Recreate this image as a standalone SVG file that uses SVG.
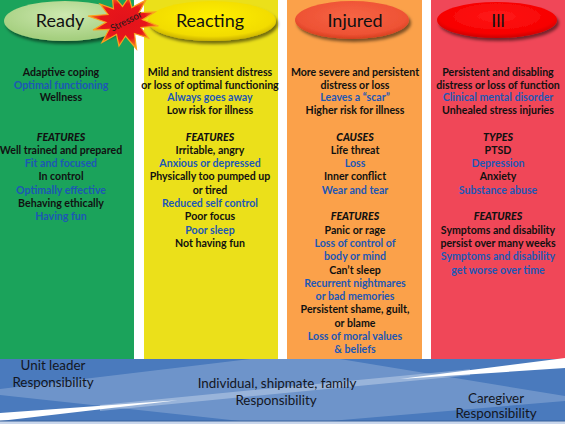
<svg xmlns="http://www.w3.org/2000/svg" width="565" height="424" viewBox="0 0 565 424">
<style>
.t{font-family:Lato,"Liberation Sans",sans-serif;font-size:10.6px;font-weight:700;text-anchor:middle;fill:#111}
.b{fill:#1d57b5}
.i{font-style:italic;font-weight:900}
.hd{font-family:Lato,"Liberation Sans",sans-serif;font-size:18px;font-weight:400;text-anchor:middle;fill:#111}
.r{font-family:Lato,"Liberation Sans",sans-serif;font-size:13.4px;font-weight:400;text-anchor:middle;fill:#13161e}
</style>
<defs>
<filter id="sh" x="-20%" y="-30%" width="140%" height="170%">
<feDropShadow dx="2" dy="3" stdDeviation="1.8" flood-color="#000" flood-opacity="0.5"/>
</filter>
<radialGradient id="gG" cx="0.5" cy="0.35" r="0.6"><stop offset="0" stop-color="#cde8b0"/><stop offset="1" stop-color="#a5cf7f"/></radialGradient>
<radialGradient id="gY" cx="0.5" cy="0.4" r="0.6"><stop offset="0" stop-color="#fff000"/><stop offset="0.8" stop-color="#f2dc00"/><stop offset="1" stop-color="#c9b000"/></radialGradient>
<radialGradient id="gO" cx="0.5" cy="0.4" r="0.6"><stop offset="0" stop-color="#f66444"/><stop offset="0.8" stop-color="#ee5234"/><stop offset="1" stop-color="#d63e1e"/></radialGradient>
<radialGradient id="gR" cx="0.5" cy="0.4" r="0.6"><stop offset="0" stop-color="#ff1a1a"/><stop offset="0.8" stop-color="#f70000"/><stop offset="1" stop-color="#cc0000"/></radialGradient>
<radialGradient id="gS" cx="0.5" cy="0.5" r="0.5"><stop offset="0" stop-color="#e2121b"/><stop offset="0.65" stop-color="#e8161a"/><stop offset="1" stop-color="#f7931e"/></radialGradient>
</defs>

<g id="col-ready">
<rect x="0" y="0" width="134" height="359" fill="#1ba35b"/>
<ellipse cx="65" cy="21" rx="61" ry="20" fill="url(#gG)" filter="url(#sh)"/>
<text class="hd" x="60" y="27" font-size="19">Ready</text>
<text class="t" x="61" y="76">Adaptive coping</text>
<text class="t b" x="61" y="88.7">Optimal functioning</text>
<text class="t" x="61" y="101.4">Wellness</text>
<text class="t i" x="61" y="140.5">FEATURES</text>
<text class="t" x="61" y="153.8">Well trained and prepared</text>
<text class="t b" x="61" y="167.1">Fit and focused</text>
<text class="t" x="61" y="180.4">In control</text>
<text class="t b" x="61" y="193.7">Optimally effective</text>
<text class="t" x="61" y="207">Behaving ethically</text>
<text class="t b" x="61" y="220.3">Having fun</text>
</g>

<g id="col-reacting">
<rect x="144" y="0" width="134" height="359" fill="#ebe01a"/>
<ellipse cx="212" cy="21" rx="64" ry="20" fill="url(#gY)" filter="url(#sh)"/>
<text class="hd" x="210" y="27">Reacting</text>
<text class="t" x="210" y="76">Mild and transient distress</text>
<text class="t" x="210" y="88.7">or loss of optimal functioning</text>
<text class="t b" x="210" y="101.4">Always goes away</text>
<text class="t" x="210" y="114.1">Low risk for illness</text>
<text class="t i" x="210" y="140.5">FEATURES</text>
<text class="t" x="210" y="153.8">Irritable, angry</text>
<text class="t b" x="210" y="167.1">Anxious or depressed</text>
<text class="t" x="210" y="180.4">Physically too pumped up</text>
<text class="t" x="210" y="193.7">or tired</text>
<text class="t b" x="210" y="207">Reduced self control</text>
<text class="t" x="210" y="220.3">Poor focus</text>
<text class="t b" x="210" y="233.6">Poor sleep</text>
<text class="t" x="210" y="246.9">Not having fun</text>
</g>

<g id="col-injured">
<rect x="287" y="0" width="135" height="359" fill="#fba14a"/>
<ellipse cx="352" cy="20" rx="57" ry="19" fill="url(#gO)" filter="url(#sh)"/>
<text class="hd" x="355" y="27">Injured</text>
<text class="t" x="355" y="76">More severe and persistent</text>
<text class="t" x="355" y="88.7">distress or loss</text>
<text class="t b" x="355" y="101.4">Leaves a “scar”</text>
<text class="t" x="355" y="114.1">Higher risk for illness</text>
<text class="t i" x="355" y="140.5">CAUSES</text>
<text class="t" x="355" y="153.8">Life threat</text>
<text class="t b" x="355" y="167.1">Loss</text>
<text class="t" x="355" y="180.4">Inner conflict</text>
<text class="t b" x="355" y="193.7">Wear and tear</text>
<text class="t i" x="355" y="220.3">FEATURES</text>
<text class="t" x="355" y="233.6">Panic or rage</text>
<text class="t b" x="355" y="246.9">Loss of control of</text>
<text class="t b" x="355" y="260.2">body or mind</text>
<text class="t" x="355" y="273.5">Can’t sleep</text>
<text class="t b" x="355" y="286.8">Recurrent nightmares</text>
<text class="t b" x="355" y="300.1">or bad memories</text>
<text class="t" x="355" y="313.4">Persistent shame, guilt,</text>
<text class="t" x="355" y="326.7">or blame</text>
<text class="t b" x="355" y="340">Loss of moral values</text>
<text class="t b" x="355" y="353">&amp; beliefs</text>
</g>

<g id="col-ill">
<rect x="431" y="0" width="134" height="359" fill="#f04758"/>
<ellipse cx="497" cy="20" rx="60" ry="18" fill="url(#gR)" filter="url(#sh)"/>
<text class="hd" x="498" y="27">Ill</text>
<text class="t" x="498" y="76">Persistent and disabling</text>
<text class="t" x="498" y="88.7">distress or loss of function</text>
<text class="t b" x="498" y="101.4">Clinical mental disorder</text>
<text class="t" x="498" y="114.1">Unhealed stress injuries</text>
<text class="t i" x="498" y="140.5">TYPES</text>
<text class="t" x="498" y="153.8">PTSD</text>
<text class="t b" x="498" y="167.1">Depression</text>
<text class="t" x="498" y="180.4">Anxiety</text>
<text class="t b" x="498" y="193.7">Substance abuse</text>
<text class="t i" x="498" y="220.3">FEATURES</text>
<text class="t" x="498" y="233.6">Symptoms and disability</text>
<text class="t" x="498" y="246.9">persist over many weeks</text>
<text class="t b" x="498" y="260.2">Symptoms and disability</text>
<text class="t b" x="498" y="273.5">get worse over time</text>
</g>

<g id="stressor">
<polygon points="158.5,26 141,27.5 148.5,38 134.5,33.5 136.5,49 125.5,36 119,46 116.5,34.5 102,42.5 109,29.5 93,30 106,22.3 88,16 108,14.5 100,4 113.5,8.8 112,-6 122.5,6.5 129,-3 131.8,7.6 146,0 139,12.5 155,12 142.5,19.7" fill="url(#gS)" stroke="#f9a21c" stroke-width="1.2"/>
<text x="126" y="24.5" transform="rotate(-27 126 21)" font-family="Lato,'Liberation Sans',sans-serif" font-size="9.6" text-anchor="middle" fill="#1a1a1a">Stressor</text>
</g>

<g id="responsibility">
<rect x="0" y="359" width="565" height="62" fill="#4a7abd"/>
<polygon points="0,389 0,395 240,421 330,421 565,401 565,396 340,359 250,359" fill="#fff" fill-opacity="0.2"/>
<polygon points="100,404.9 470,369.2 470,375.2 100,410.9" fill="#fff" fill-opacity="0.3"/>
<polygon points="0,413 0,421 178,400.3" fill="#fff"/>
<polygon points="565,358 565,368 400,378.9" fill="#fff"/>
<rect x="0" y="421" width="565" height="3" fill="#c9d6eb"/>
<line x1="0" y1="421" x2="565" y2="421" stroke="#37609c" stroke-width="1.2"/>
<text class="r" x="53" y="370">Unit leader</text>
<text class="r" x="53" y="387">Responsibility</text>
<text class="r" x="277" y="388">Individual, shipmate, family</text>
<text class="r" x="276" y="405">Responsibility</text>
<text class="r" x="496" y="403">Caregiver</text>
<text class="r" x="496" y="418">Responsibility</text>
</g>

<g id="connectors"/>
</svg>
